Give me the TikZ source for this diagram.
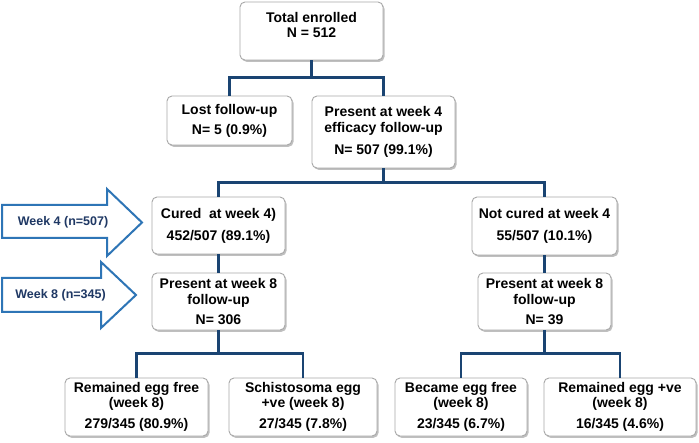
\documentclass[tikz,border=0pt]{standalone}
\usepackage{fontspec}
\setmainfont{Liberation Sans}
\usetikzlibrary{shadows,calc}
\definecolor{conncol}{HTML}{1A4472}
\definecolor{arrcol}{HTML}{2E75B6}
\definecolor{weektxt}{HTML}{1F3864}
\definecolor{boxline}{HTML}{A8A8A8}
\tikzset{
  box/.style={draw=boxline, line width=0.9bp, rounded corners=5bp, fill=white,
    drop shadow={shadow xshift=1.5bp, shadow yshift=-1.8bp, fill=black, opacity=0.25},
    align=center, inner sep=0pt,
    font=\fontsize{14bp}{15.5bp}\selectfont\bfseries},
  txt/.style={align=center, inner sep=0pt, font=\fontsize{14bp}{15.5bp}\selectfont\bfseries},
  conn/.style={draw=conncol, line width=2.4bp},
  weekarrow/.style={draw=arrcol, line width=2bp, fill=white, line join=miter},
  weeklabel/.style={inner sep=0pt, text=weektxt, font=\fontsize{12.5bp}{14bp}\selectfont\bfseries}
}
\begin{document}
\begin{tikzpicture}[x=1bp, y=-1bp]
\useasboundingbox (0,0) rectangle (699,443);
\fill[white] (0,0) rectangle (699,443);

% boxes
\node[box, minimum width=143bp, minimum height=58bp] (total) at (311.5,31) {};
\node[txt] (totaltxt) at (311.5,25) {Total enrolled\\N = 512};
\node[box, minimum width=125bp, minimum height=49bp] (lost) at (229.5,120.5) {Lost follow-up\\[4.5bp]N= 5 (0.9\%)};
\node[box, minimum width=143bp, minimum height=72bp] (pres4) at (383.5,132) {Present at week 4\\efficacy follow-up\\[6.5bp]N= 507 (99.1\%)};
\node[box, minimum width=133bp, minimum height=57bp] (cured) at (218.5,225.5) {Cured\ \ at week 4)\\[6.5bp]452/507 (89.1\%)};
\node[box, minimum width=145bp, minimum height=58bp] (notcured) at (544.5,226) {Not cured at week 4\\[6.5bp]55/507 (10.1\%)};
\node[box, minimum width=133bp, minimum height=57bp] (p8l) at (218.5,301.5) {Present at week 8\\follow-up\\[4.5bp]N= 306};
\node[box, minimum width=133bp, minimum height=57bp] (p8r) at (544.5,301.5) {Present at week 8\\follow-up\\[4.5bp]N= 39};
\node[box, minimum width=143bp, minimum height=58bp] (reml) at (136.5,407) {Remained egg free\\(week 8)\\[5.5bp]279/345 (80.9\%)};
\node[box, minimum width=148bp, minimum height=58bp] (schis) at (303,407) {Schistosoma egg\\+ve (week 8)\\[5.5bp]27/345 (7.8\%)};
\node[box, minimum width=132bp, minimum height=58bp] (became) at (461,407) {Became egg free\\(week 8)\\[5.5bp]23/345 (6.7\%)};
\node[box, minimum width=152bp, minimum height=58bp] (remr) at (620,407) {Remained egg +ve\\(week 8)\\[5.5bp]16/345 (4.6\%)};

% connectors
\draw[conn] (total.south) -- ([yshift=18bp]lost.north -| total.south);
\draw[conn] (lost.north) -- ++(0,-18) -| (pres4.north);
\draw[conn] (pres4.south) -- ([yshift=14bp]cured.north -| pres4.south);
\draw[conn] (cured.north) -- ++(0,-14) -| (notcured.north);
\draw[conn] (cured.south) -- (p8l.north);
\draw[conn] (notcured.south) -- (p8r.north);
\draw[conn] (p8l.south) -- ([yshift=24bp]reml.north -| p8l.south);
\draw[conn] (reml.north) -- ++(0,-24) -| (schis.north);
\draw[conn] (p8r.south) -- ([yshift=24bp]became.north -| p8r.south);
\draw[conn] (became.north) -- ++(0,-24) -| (remr.north);

% week arrows
\draw[weekarrow] (2,205) -- (107,205) -- (107,189) -- (142,222.5) -- (107,256) -- (107,238) -- (2,238) -- cycle;
\node[weeklabel] (w4) at (63,222) {Week 4 (n=507)};
\draw[weekarrow] (2,278) -- (101,278) -- (101,262) -- (136,295) -- (101,328) -- (101,312) -- (2,312) -- cycle;
\node[weeklabel] (w8) at (60.5,295) {Week 8 (n=345)};
\end{tikzpicture}
\end{document}
